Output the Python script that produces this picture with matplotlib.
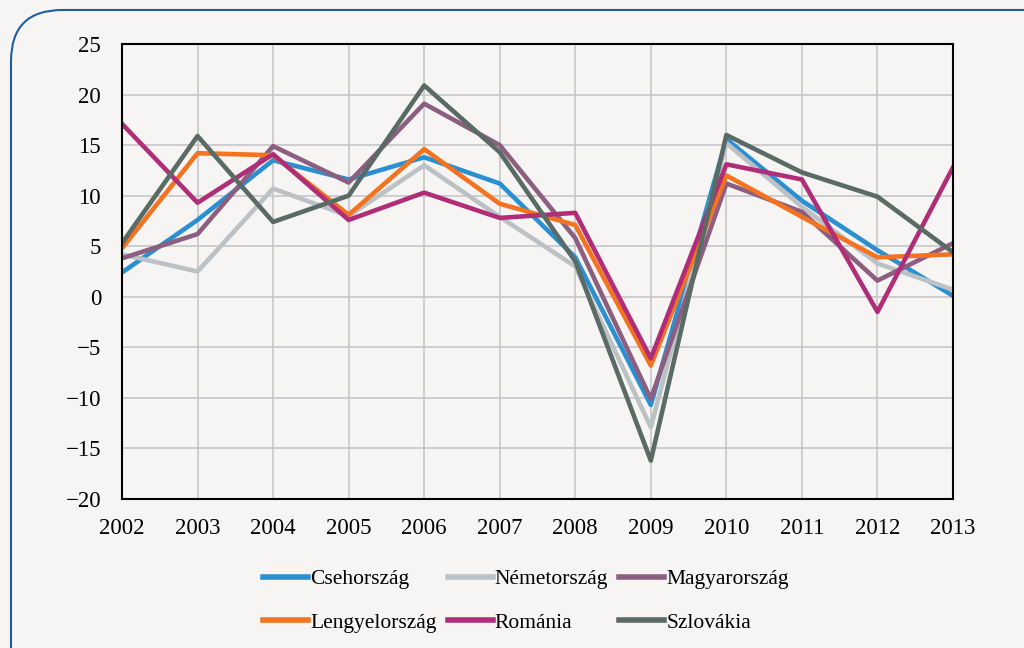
import matplotlib
matplotlib.use('Agg')
import matplotlib.pyplot as plt
from matplotlib.patches import FancyBboxPatch

# data
years = [2002, 2003, 2004, 2005, 2006, 2007, 2008, 2009, 2010, 2011, 2012, 2013]
cseh = [2.4, 7.6, 13.5, 11.6, 13.8, 11.2, 3.9, -10.7, 15.6, 9.5, 4.6, 0.1]
nemet = [4.2, 2.5, 10.7, 8.0, 13.0, 7.9, 3.0, -12.9, 15.2, 8.9, 3.3, 0.7]
magyar = [3.8, 6.2, 14.9, 11.3, 19.1, 15.0, 5.8, -10.1, 11.2, 8.4, 1.6, 5.3]
lengyel = [4.8, 14.2, 14.0, 8.1, 14.6, 9.2, 7.1, -6.8, 12.0, 7.9, 3.9, 4.2]
roman = [17.1, 9.3, 14.1, 7.6, 10.3, 7.8, 8.3, -6.1, 13.1, 11.6, -1.5, 12.8]
szlovak = [5.3, 15.9, 7.4, 10.0, 20.9, 14.3, 3.5, -16.2, 16.0, 12.3, 9.9, 4.4]

names = ['Csehország', 'Németország', 'Magyarország', 'Lengyelország', 'Románia', 'Szlovákia']
series = [cseh, nemet, magyar, lengyel, roman, szlovak]
colors = ['#2a90d2', '#bcc1c5', '#8c5f80', '#f47321', '#b02e78', '#5a6a65']

plt.rcParams['font.family'] = ['Liberation Serif', 'DejaVu Serif']
bg = '#f6f5f3'

fig = plt.figure(figsize=(10.24, 6.48), dpi=100, facecolor=bg)
ax = fig.add_axes([122 / 1024, 1 - 499 / 648, (953 - 122) / 1024, (499 - 44) / 648])
ax.set_facecolor(bg)

# rounded frame around the whole chart
frame = FancyBboxPatch((11 / 1024, -0.2), 1.2, 1 - 10 / 648 + 0.2,
                       boxstyle='round,pad=0,rounding_size=0.05',
                       transform=fig.transFigure, facecolor='none', edgecolor='#1f5f9e',
                       linewidth=1.5, mutation_aspect=1024 / 648, clip_on=False)
fig.patches.append(frame)

lines = []
for name, vals, col in zip(names, series, colors):
    ln, = ax.plot(years, vals, color=col, linewidth=3.3, label=name)
    lines.append(ln)

ax.set_xlim(2002, 2013)
ax.set_ylim(-20, 25)
ax.set_xticks(years)
ax.set_yticks(range(-20, 26, 5))
ax.grid(True, color='#c6c6c8', linewidth=1.2)
ax.set_axisbelow(True)
ax.tick_params(length=0, labelsize=16.5)
ax.tick_params(axis='x', pad=14)
ax.tick_params(axis='y', pad=15)
for s in ax.spines.values():
    s.set_linewidth(1.5)
    s.set_color('black')

# matplotlib fills legend columns first, so reorder to get the row layout
order = [0, 3, 1, 4, 2, 5]
leg = fig.legend([lines[i] for i in order], [names[i] for i in order], ncol=3,
                 loc='center', bbox_to_anchor=(526 / 1024, 1 - 601 / 648), frameon=False,
                 fontsize=15.5, handlelength=2.1, handletextpad=0.1, columnspacing=0.5,
                 labelspacing=1.1)
for h in leg.legend_handles:
    h.set_linewidth(4)

fig.savefig('out.png', dpi=100, facecolor=bg)
